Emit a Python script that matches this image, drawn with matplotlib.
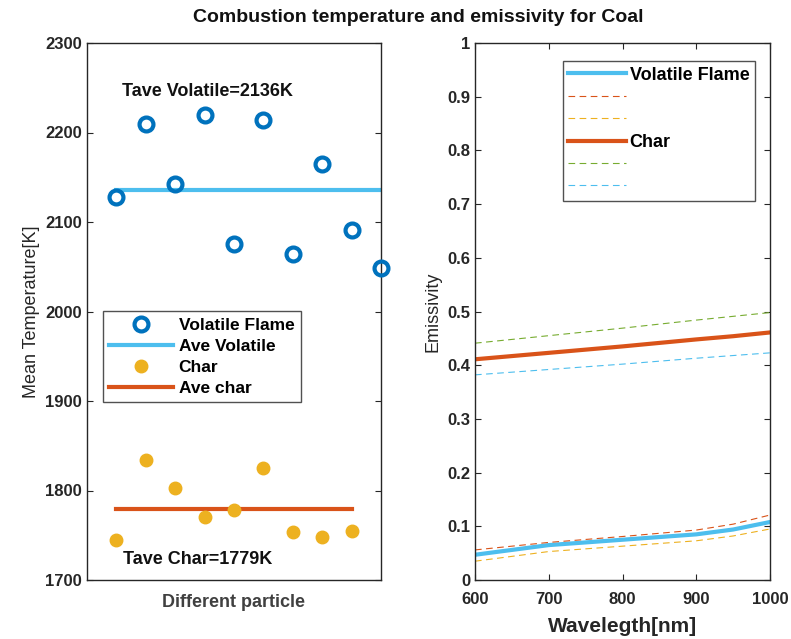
import numpy as np
import matplotlib
matplotlib.use("Agg")
import matplotlib.pyplot as plt

plt.rcParams['font.family'] = ['Liberation Sans', 'DejaVu Sans']

# left panel: temperatures per particle
particle_vol = [1, 2, 3, 4, 5, 6, 7, 8, 9, 10]
temp_vol = [2128, 2210, 2143, 2220, 2075, 2214, 2064, 2165, 2091, 2049]
particle_char = [1, 2, 3, 4, 5, 6, 7, 8, 9]
temp_char = [1745, 1834, 1803, 1770, 1778, 1825, 1754, 1748, 1755]
ave_vol = 2136
ave_char = 1779

# right panel: emissivity vs wavelength
wl = [600, 700, 800, 900, 950, 1000]
eps_vol = [0.047, 0.065, 0.075, 0.085, 0.094, 0.108]
eps_vol_hi = [0.056, 0.070, 0.081, 0.093, 0.104, 0.121]
eps_vol_lo = [0.035, 0.053, 0.063, 0.073, 0.082, 0.095]
eps_char = [0.411, 0.423, 0.435, 0.448, 0.454, 0.461]
eps_char_hi = [0.441, 0.455, 0.469, 0.484, 0.491, 0.498]
eps_char_lo = [0.382, 0.392, 0.402, 0.413, 0.418, 0.423]

c_blue = '#0072BD'
c_lblue = '#4DBEEE'
c_orange = '#D95319'
c_yellow = '#EDB120'
c_green = '#77AC30'
c_txt = '#262626'
dash = (6, 4)

fig = plt.figure(figsize=(7.91, 6.39), dpi=100)
ax1 = fig.add_axes([87/791, 59/639, 294/791, 537/639])
ax2 = fig.add_axes([475/791, 59/639, 295/791, 537/639])

# ---- left
ax1.plot(particle_vol, temp_vol, 'o', mfc='none', mec=c_blue, mew=3, ms=10, label='Volatile Flame', clip_on=False, zorder=4)
ax1.plot([particle_vol[0], particle_vol[-1]], [ave_vol, ave_vol], color=c_lblue, lw=3, label='Ave Volatile')
ax1.plot(particle_char, temp_char, 'o', color=c_yellow, ms=9, label='Char', zorder=4)
ax1.plot([particle_char[0], particle_char[-1]], [ave_char, ave_char], color=c_orange, lw=3, label='Ave char')
ax1.set_xlim(0, 10)
ax1.set_ylim(1700, 2300)
ax1.set_xticks([])
ax1.set_yticks(np.arange(1700, 2301, 100))
ax1.text(1.18, 2246, 'Tave Volatile=%dK' % ave_vol, fontsize=13, fontweight='bold', va='center', color='#111111')
ax1.text(1.22, 1723, 'Tave Char=%dK' % ave_char, fontsize=13, fontweight='bold', va='center', color='#111111')
ax1.set_xlabel('Different particle', fontsize=13, fontweight='bold', color='#404040', labelpad=10)
ax1.set_ylabel('Mean Temperature[K]', fontsize=13, color=c_txt, labelpad=4)
leg1 = ax1.legend(loc='upper left', bbox_to_anchor=(0.055, 0.5), fontsize=12.5, frameon=True,
                  fancybox=False, edgecolor=c_txt, borderpad=0.35, labelspacing=0.35,
                  handlelength=3.7, handletextpad=0.3, borderaxespad=0)
for t in leg1.get_texts():
    t.set_fontweight('bold')
leg1.get_frame().set_linewidth(1)

# ---- right
ax2.plot(wl, eps_vol, color=c_lblue, lw=3, label='Volatile Flame')
ax2.plot(wl, eps_vol_hi, '--', dashes=dash, color=c_orange, lw=0.8, label=' ')
ax2.plot(wl, eps_vol_lo, '--', dashes=dash, color=c_yellow, lw=0.8, label=' ')
ax2.plot(wl, eps_char, color=c_orange, lw=3, label='Char')
ax2.plot(wl, eps_char_hi, '--', dashes=dash, color=c_green, lw=0.8, label=' ')
ax2.plot(wl, eps_char_lo, '--', dashes=dash, color=c_lblue, lw=0.8, label=' ')
ax2.set_xlim(600, 1000)
ax2.set_ylim(0, 1)
ax2.set_xticks(np.arange(600, 1001, 100))
ax2.set_yticks(np.arange(0, 1.01, 0.1))
ax2.set_yticklabels(['0', '0.1', '0.2', '0.3', '0.4', '0.5', '0.6', '0.7', '0.8', '0.9', '1'])
ax2.set_xlabel('Wavelegth[nm]', fontsize=15, fontweight='bold', color=c_txt, labelpad=7)
ax2.set_ylabel('Emissivity', fontsize=13, color=c_txt, labelpad=4)
leg2 = ax2.legend(loc='upper left', bbox_to_anchor=(0.298, 0.966), fontsize=13, frameon=True,
                  fancybox=False, edgecolor=c_txt, borderpad=0.3, labelspacing=0.3,
                  handlelength=3.2, handletextpad=0.2, borderaxespad=0)
for t in leg2.get_texts():
    t.set_fontweight('bold')
leg2.get_frame().set_linewidth(1)

for ax in (ax1, ax2):
    ax.tick_params(direction='in', length=4, width=0.8, colors=c_txt, labelsize=12,
                   top=True, right=True)
    for lab in ax.get_xticklabels() + ax.get_yticklabels():
        lab.set_fontweight('bold')
    for sp in ax.spines.values():
        sp.set_color(c_txt)
        sp.set_linewidth(1)
ax1.tick_params(top=False)
ax2.tick_params(axis='x', pad=9)

fig.text(418/791, 1 - 18/639, 'Combustion temperature and emissivity for Coal', ha='center', va='center',
         fontsize=14, fontweight='bold', color='#111111')

fig.savefig('out.png', dpi=100)
